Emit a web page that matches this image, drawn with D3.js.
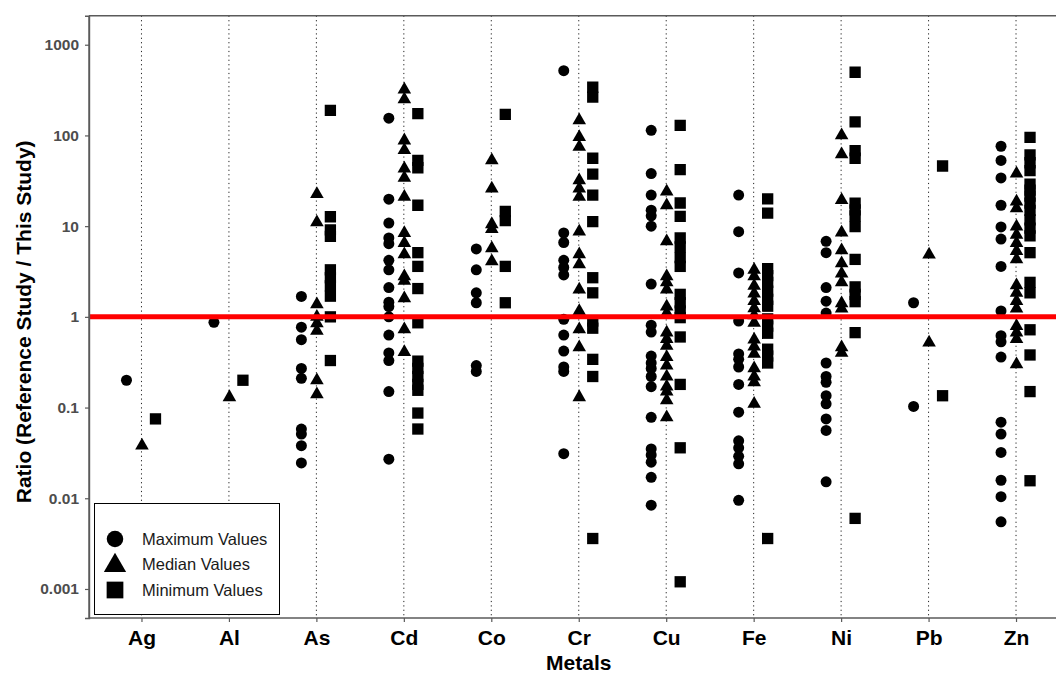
<!DOCTYPE html>
<html>
<head>
<meta charset="utf-8">
<script src="https://cdn.jsdelivr.net/npm/d3@7"></script>
<style>
  html, body { margin: 0; padding: 0; background: #fff; }
  svg { display: block; font-family: "Liberation Sans", Arial, sans-serif; }
</style>
</head>
<body>
<svg id="chart" width="1056" height="673"></svg>
<script>
// Metals on the x axis
const categories = ["Ag", "Al", "As", "Cd", "Co", "Cr", "Cu", "Fe", "Ni", "Pb", "Zn"];

// Ratio (reference study / this study) for each metal, one list per metal
const maxValues = [
  [0.2],
  [0.87],
  [1.68, 0.77, 0.56, 0.27, 0.21, 0.058, 0.051, 0.038, 0.0245],
  [155, 19.8, 10.8, 7.4, 6.4, 4.2, 3.3, 2.1, 1.45, 1.3, 1.0, 0.63, 0.40, 0.33, 0.15, 0.027],
  [5.6, 3.3, 1.84, 1.43, 0.29, 0.25],
  [518, 8.4, 6.6, 4.2, 3.5, 2.9, 0.94, 0.63, 0.42, 0.28, 0.25, 0.031],
  [114, 38, 22, 15, 13, 10, 2.3, 0.81, 0.68, 0.37, 0.31, 0.27, 0.22, 0.17, 0.078, 0.035, 0.030, 0.025, 0.017, 0.0084],
  [22, 8.7, 3.05, 0.9, 0.39, 0.34, 0.28, 0.18, 0.089, 0.043, 0.036, 0.029, 0.024, 0.0095],
  [6.8, 5.1, 2.1, 1.49, 1.1, 0.31, 0.22, 0.19, 0.135, 0.11, 0.075, 0.056, 0.0152],
  [1.43, 0.103],
  [76, 53, 34, 17, 9.8, 7.2, 3.6, 1.16, 0.62, 0.53, 0.36, 0.069, 0.051, 0.032, 0.0158, 0.0104, 0.0055]
];

const medianValues = [
  [0.038],
  [0.13],
  [22.6, 11, 1.37, 1.0, 0.85, 0.70, 0.2, 0.14],
  [320, 250, 88, 69, 43, 34, 21, 8.4, 6.5, 4.9, 2.8, 2.5, 1.6, 0.73, 0.41],
  [53, 26, 10.5, 9.3, 5.7, 4.1],
  [147, 96, 75, 32, 26, 21, 8.7, 4.9, 3.8, 2.0, 1.16, 0.73, 0.46, 0.13],
  [24, 17, 6.8, 2.8, 2.4, 2.0, 1.3, 1.1, 0.67, 0.57, 0.48, 0.36, 0.29, 0.22, 0.17, 0.15, 0.12, 0.078],
  [3.3, 2.8, 2.2, 1.8, 1.49, 1.24, 1.04, 0.86, 0.56, 0.47, 0.39, 0.27, 0.22, 0.19, 0.11],
  [100, 62, 19.4, 8.5, 5.4, 3.9, 3.0, 2.4, 1.41, 1.23, 0.46, 0.40],
  [4.85, 0.52],
  [38, 18.6, 15.7, 9.9, 8, 6.5, 5.3, 4.3, 2.23, 1.84, 1.49, 1.23, 0.79, 0.67, 0.57, 0.30]
];

const minValues = [
  [0.075],
  [0.2],
  [189, 12.7, 9.1, 7.7, 3.3, 2.7, 2.2, 1.69, 1.0, 0.33],
  [174, 53, 44, 17, 5.1, 3.6, 2.05, 0.86, 0.325, 0.27, 0.22, 0.18, 0.155, 0.087, 0.058],
  [171, 14.5, 11.5, 3.6, 1.43],
  [340, 264, 56, 37.5, 22, 11.2, 2.7, 1.84, 0.9, 0.75, 0.34, 0.22, 0.0036],
  [129, 42, 18, 12.8, 7.4, 5.9, 4.5, 3.6, 1.77, 1.43, 1.16, 0.98, 0.6, 0.18, 0.036, 0.0012],
  [20, 13.9, 3.4, 2.85, 2.4, 1.92, 1.56, 1.31, 0.95, 0.79, 0.66, 0.44, 0.37, 0.31, 0.0036],
  [497, 141, 68, 56, 17.9, 15.1, 13, 9.9, 4.3, 2.14, 1.77, 1.47, 0.67, 0.006],
  [46, 0.135],
  [95, 61, 50, 41, 29, 25, 21.5, 17.9, 14.9, 11.7, 9.5, 7.8, 5.1, 2.4, 1.84, 0.72, 0.38, 0.15, 0.0156]
];

const yTicks = [0.001, 0.01, 0.1, 1, 10, 100, 1000];
const seriesNames = ["Maximum Values", "Median Values", "Minimum Values"];
const referenceRatio = 1;

// ---- layout ----
const svg = d3.select("#chart");
const panel = { left: 89, top: 15.7, width: 979.5, bottom: 618 };
const fontFamily = "'Liberation Sans', Arial, sans-serif";

const x = d3.scalePoint()
  .domain(categories)
  .range([panel.left, panel.left + panel.width])
  .padding(0.6);

const y = d3.scaleLog()
  .domain([Math.pow(10, -3.32), Math.pow(10, 3.32)])
  .range([panel.bottom, panel.top]);

// horizontal dodge for the three series
const series = [
  { name: seriesNames[0], values: maxValues, dx: -15, shape: d3.symbolCircle, size: 95, legendSize: 215 },
  { name: seriesNames[1], values: medianValues, dx: 0.5, shape: d3.symbolTriangle, size: 80, legendSize: 215 },
  { name: seriesNames[2], values: minValues, dx: 14, shape: d3.symbolSquare, size: 128, legendSize: 280 }
];

const clipId = "panel-clip";
svg.append("defs").append("clipPath").attr("id", clipId)
  .append("rect")
  .attr("x", panel.left).attr("y", panel.top)
  .attr("width", panel.width).attr("height", panel.bottom - panel.top);

// dotted vertical guides at each metal
svg.append("g")
  .selectAll("line")
  .data(categories)
  .join("line")
  .attr("x1", d => x(d)).attr("x2", d => x(d))
  .attr("y1", panel.top).attr("y2", panel.bottom)
  .attr("stroke", "#222")
  .attr("stroke-width", 1)
  .attr("stroke-dasharray", "1.2,3.2");

// points
const pts = svg.append("g").attr("clip-path", `url(#${clipId})`);
series.forEach(s => {
  const flat = [];
  categories.forEach((c, i) => s.values[i].forEach(v => flat.push({ c, v })));
  pts.append("g")
    .selectAll("path")
    .data(flat)
    .join("path")
    .attr("d", d3.symbol().type(s.shape).size(s.size))
    .attr("transform", d => `translate(${x(d.c) + s.dx},${y(d.v)})`)
    .attr("fill", "#000");
});

// reference line at ratio = 1
svg.append("line")
  .attr("x1", panel.left).attr("x2", panel.left + panel.width)
  .attr("y1", y(referenceRatio)).attr("y2", y(referenceRatio))
  .attr("stroke", "#ff0000")
  .attr("stroke-width", 5);

// panel border (left, top)
const border = svg.append("g").attr("stroke", "#5a5a5a").attr("stroke-width", 1.4).attr("fill", "none");
border.append("line").attr("x1", panel.left).attr("x2", panel.left).attr("y1", panel.top).attr("y2", panel.bottom);
border.append("line").attr("x1", panel.left).attr("x2", 1056).attr("y1", panel.top).attr("y2", panel.top);

// y axis
const yAxis = svg.append("g")
  .attr("transform", `translate(${panel.left},0)`)
  .call(d3.axisLeft(y).tickValues(yTicks).tickSize(4).tickPadding(6).tickFormat(d3.format("~g")));
yAxis.select(".domain").attr("stroke", "#5a5a5a").attr("stroke-width", 1.4);
yAxis.selectAll(".tick line").attr("stroke", "#5a5a5a").attr("stroke-width", 1.2);
yAxis.selectAll(".tick text")
  .attr("fill", "#4d4d4d")
  .style("font-size", "15.5px")
  .style("font-weight", "bold")
  .style("font-family", fontFamily);

// x axis
const xAxis = svg.append("g")
  .attr("transform", `translate(0,${panel.bottom})`)
  .call(d3.axisBottom(x).tickSize(4).tickPadding(6));
xAxis.select(".domain").attr("d", `M${panel.left},0H1056`).attr("stroke", "#5a5a5a").attr("stroke-width", 1.4);
xAxis.selectAll(".tick line").attr("stroke", "#5a5a5a").attr("stroke-width", 1.2);
xAxis.selectAll(".tick text")
  .attr("fill", "#000")
  .attr("y", 27)
  .attr("dy", 0)
  .style("font-size", "21px")
  .style("font-weight", "bold")
  .style("font-family", fontFamily);

// axis titles
svg.append("text")
  .attr("x", (panel.left + panel.left + panel.width) / 2)
  .attr("y", 670)
  .attr("text-anchor", "middle")
  .style("font-size", "21px")
  .style("font-weight", "bold")
  .text("Metals");

svg.append("text")
  .attr("transform", `translate(31,${(panel.top + panel.bottom) / 2 + 5}) rotate(-90)`)
  .attr("text-anchor", "middle")
  .style("font-size", "21px")
  .style("font-weight", "bold")
  .text("Ratio (Reference Study / This Study)");

// legend
const legend = svg.append("g");
legend.append("rect")
  .attr("x", 94.5).attr("y", 503.5)
  .attr("width", 185).attr("height", 111)
  .attr("fill", "#fff")
  .attr("stroke", "#000")
  .attr("stroke-width", 1);
series.forEach((s, i) => {
  const cy = 539 + i * 25.5;
  legend.append("path")
    .attr("d", d3.symbol().type(s.shape).size(s.legendSize))
    .attr("transform", `translate(115,${cy + (i === 1 ? 1 : 0)})`)
    .attr("fill", "#000");
  legend.append("text")
    .attr("x", 142)
    .attr("y", cy)
    .attr("dy", "0.35em")
    .attr("fill", "#1a1a1a")
    .style("font-size", "16.5px")
    .text(s.name);
});
</script>
</body>
</html>
